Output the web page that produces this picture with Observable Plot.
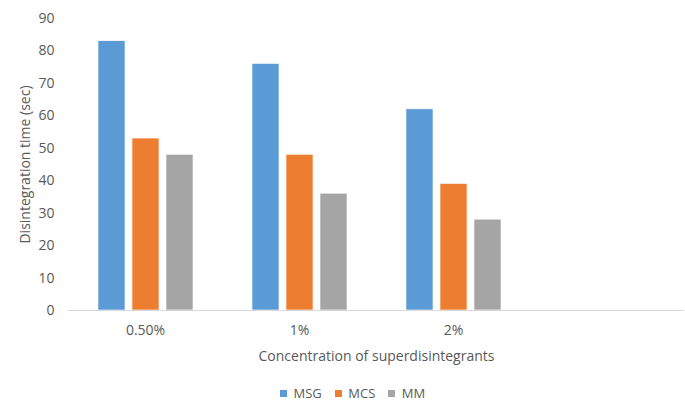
<!DOCTYPE html>
<html>
<head>
<meta charset="utf-8">
<script src="https://cdn.jsdelivr.net/npm/d3@7"></script>
<script src="https://cdn.jsdelivr.net/npm/@observablehq/plot@0.6"></script>
<style>
  body { margin: 0; background: #fff; font-family: "Open Sans", sans-serif; }
  #chart { width: 685px; height: 382px; }
  #legend { padding-left: 280px; margin-top: 5px; height: 13px; line-height: 13px; }
  #legend > div { min-height: 0 !important; height: 13px; line-height: 13px; margin: 0 !important; align-items: center; }
  #legend > div > * { line-height: 13px; }
</style>
</head>
<body>
<div id="chart"></div>
<div id="legend"></div>
<script>
// Concentrations (the last slot is an unused, blank category)
const concentrations = ["0.50%", "1%", "2%", ""];
const series = ["MSG", "MCS", "MM"];
const colors = ["#5b9bd5", "#ed7d31", "#a5a5a5"];

// Disintegration time (sec) per concentration
const msg = [83, 76, 62];
const mcs = [53, 48, 39];
const mm = [48, 36, 28];

const yTicks = [0, 10, 20, 30, 40, 50, 60, 70, 80, 90];

const seriesValues = {MSG: msg, MCS: mcs, MM: mm};
const rows = series.flatMap((s) =>
  seriesValues[s].map((v, i) => ({conc: concentrations[i], series: s, value: v}))
);

const textColor = "#595959";

const chart = Plot.plot({
  width: 685,
  height: 382,
  marginTop: 18,
  marginLeft: 67,
  marginRight: 0,
  marginBottom: 72,
  style: {fontFamily: "Open Sans", fontSize: "14px", color: textColor, background: "#fff", display: "block"},
  fx: {domain: concentrations, padding: 0},
  x: {domain: series, paddingInner: 0.217, paddingOuter: 0.848, axis: null},
  y: {domain: [0, 90]},
  color: {domain: series, range: colors},
  marks: [
    Plot.barY(rows, {fx: "conc", x: "series", y: "value", fill: "series", stroke: "#fff", strokeWidth: 0.6}),
    // baseline runs through every category slot, including the blank one
    Plot.ruleY(concentrations, {fx: (d) => d, y: 0, stroke: "#d9d9d9", strokeWidth: 1}),
    Plot.axisY({
      ticks: yTicks,
      tickSize: 0,
      tickPadding: 14,
      fill: textColor,
      label: "Disintegration time (sec)",
      labelAnchor: "center",
      labelArrow: "none",
      labelOffset: 48
    }),
    Plot.axisFx({
      anchor: "bottom",
      tickSize: 0,
      tickPadding: 15,
      fill: textColor,
      label: "Concentration of superdisintegrants",
      labelAnchor: "center",
      labelArrow: "none",
      labelOffset: 50
    })
  ]
});
document.getElementById("chart").appendChild(chart);

const legend = Plot.legend({
  color: {domain: series, range: colors},
  swatchSize: 7,
  style: {fontFamily: "Open Sans", fontSize: "13px", color: textColor}
});
document.getElementById("legend").appendChild(legend);
</script>
</body>
</html>
